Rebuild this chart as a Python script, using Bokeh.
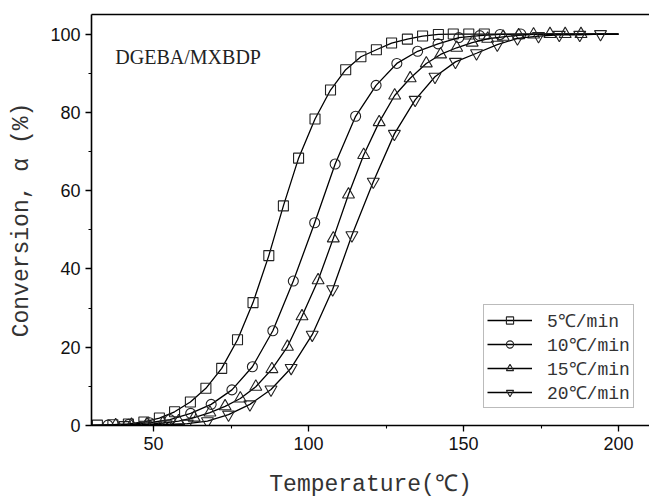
from bokeh.plotting import figure
from bokeh.models import (LinearAxis, SingleIntervalTicker, FixedTicker, Legend,
                          LegendItem, Label, Range1d)
from bokeh.embed import file_html
from bokeh.resources import INLINE

# ---------------- data ----------------
T5 = [31.9, 36.9, 41.9, 46.9, 51.9, 56.8, 61.9, 66.9, 72.0, 77.1, 82.1, 87.2, 91.9,
      96.8, 102.1, 107.1, 112.0, 116.9, 121.9, 126.8, 131.9, 136.8, 141.9, 146.7,
      151.7, 156.7]
A5 = [0.1, 0.2, 0.4, 0.9, 1.9, 3.5, 6.0, 9.5, 14.6, 21.9, 31.4, 43.4, 56.1, 68.3,
      78.3, 85.7, 90.9, 94.2, 96.0, 97.7, 98.7, 99.5, 99.9, 100.0, 100.0, 100.0]

T10 = [35.3, 42.0, 48.7, 55.3, 62.0, 68.6, 75.3, 81.9, 88.5, 95.1, 102.0, 108.6,
       115.2, 121.8, 128.5, 135.2, 141.8, 148.5, 155.2, 161.8, 168.5]
A10 = [0.1, 0.3, 0.7, 1.5, 3.1, 5.4, 9.1, 15.0, 24.2, 36.9, 51.8, 66.8, 79.0, 86.9,
       92.5, 95.6, 97.5, 99.1, 99.6, 99.9, 100.0]

T15 = [37.8, 42.9, 47.9, 53.0, 58.1, 63.1, 68.2, 73.1, 78.0, 83.0, 88.2, 93.2, 97.9,
       103.1, 108.0, 112.9, 117.8, 122.8, 127.8, 132.8, 138.0, 142.6, 147.8, 152.8,
       157.8, 162.8, 167.8, 172.6, 177.9, 182.8, 187.9]
A15 = [0.1, 0.2, 0.3, 0.6, 1.1, 2.0, 3.3, 4.9, 6.9, 9.9, 14.4, 20.1, 27.9, 37.1,
       47.8, 59.0, 69.1, 77.5, 84.3, 88.7, 92.5, 94.8, 96.5, 97.8, 98.8, 99.3, 99.7,
       99.9, 100.0, 100.0, 100.0]

T20 = [40.7, 47.4, 54.1, 60.9, 67.4, 74.2, 81.1, 87.9, 94.4, 101.2, 107.8, 114.0,
       120.9, 127.7, 134.4, 140.8, 147.4, 154.2, 160.9, 167.4, 174.2, 180.9, 187.5,
       194.2]
A20 = [0.1, 0.2, 0.3, 0.5, 1.1, 2.8, 5.4, 9.2, 14.7, 23.2, 34.8, 48.6, 62.3, 74.5,
       83.2, 89.1, 92.9, 95.1, 97.3, 98.9, 99.5, 99.8, 99.8, 100.0]

LABELS = ["5℃/min", "10℃/min", "15℃/min", "20℃/min"]
MARKERS = ["square", "circle", "triangle", "inverted_triangle"]
FIT_START = (30.0, 0.0)     # fitted curves start / end values
FIT_END = (200.0, 100.0)

X_TITLE = "Temperature(℃)"
Y_TITLE = "Conversion, α (%)"
SAMPLE = "DGEBA/MXBDP"

# ---------------- figure ----------------
p = figure(width=649, height=500, x_range=Range1d(30, 210), y_range=Range1d(0, 105),
           output_backend="svg", toolbar_location=None,
           min_border_left=91, min_border_right=0, min_border_top=14,
           min_border_bottom=74)
p.grid.visible = False
p.outline_line_color = None
p.background_fill_color = "white"
p.border_fill_color = "white"

mono = "Liberation Mono"
for ax in (p.xaxis[0], p.yaxis[0]):
    ax.axis_line_width = 1.6
    ax.axis_line_color = "black"
    ax.major_tick_line_color = "black"
    ax.minor_tick_line_color = "black"
    ax.major_tick_line_width = 1.3
    ax.minor_tick_line_width = 1.1
    ax.major_tick_in = 0
    ax.major_tick_out = 6
    ax.minor_tick_in = 0
    ax.minor_tick_out = 3
    ax.major_label_text_font = "Liberation Sans"
    ax.major_label_text_font_size = "18px"
    ax.major_label_text_color = "#111111"
    ax.axis_label_text_font = mono
    ax.axis_label_text_font_size = "23px"
    ax.axis_label_text_font_style = "normal"
    ax.axis_label_text_color = "#333333"

p.xaxis.ticker = SingleIntervalTicker(interval=50, num_minor_ticks=2)
p.yaxis.ticker = SingleIntervalTicker(interval=20, num_minor_ticks=2)
p.xaxis.axis_label = X_TITLE
p.yaxis.axis_label = Y_TITLE
p.xaxis.major_label_standoff = 5
p.xaxis.axis_label_standoff = 19
p.yaxis.major_label_standoff = 5
p.yaxis.axis_label_standoff = 12

top = LinearAxis(ticker=FixedTicker(ticks=[]), axis_line_width=1.6,
                 axis_line_color="black", major_tick_out=0, minor_tick_out=0,
                 major_tick_in=0, minor_tick_in=0,
                 major_label_text_font_size="0px")
p.add_layout(top, "above")

series = [(T5, A5), (T10, A10), (T15, A15), (T20, A20)]
sizes = {"square": 10, "circle": 10, "triangle": 12, "inverted_triangle": 12}
items = []
for (t, a), lab, mk in zip(series, LABELS, MARKERS):
    fx = [FIT_START[0]] + t + [FIT_END[0]]
    fy = [FIT_START[1]] + a + [FIT_END[1]]
    ln = p.line(fx, fy, line_color="black", line_width=1.3)
    sc = p.scatter(t, a, marker=mk, size=sizes[mk], line_color="#222222",
                   fill_color=None, line_width=1.1)
    items.append(LegendItem(label=lab, renderers=[ln, sc]))

legend = Legend(items=items, location=(392, 17), orientation="vertical",
                label_text_font=mono, label_text_font_size="18px",
                label_text_color="#333333",
                glyph_width=45, glyph_height=18, label_height=20,
                label_standoff=15, padding=3, spacing=0, margin=0,
                border_line_color="#777777", border_line_width=1,
                background_fill_color="white", background_fill_alpha=1.0)
p.add_layout(legend)

p.add_layout(Label(x=37.7, y=94.1, text=SAMPLE, text_font="Liberation Serif",
                   text_font_size="20px", text_baseline="middle",
                   text_color="#222222"))

open("out.html", "w").write(file_html(p, INLINE))
